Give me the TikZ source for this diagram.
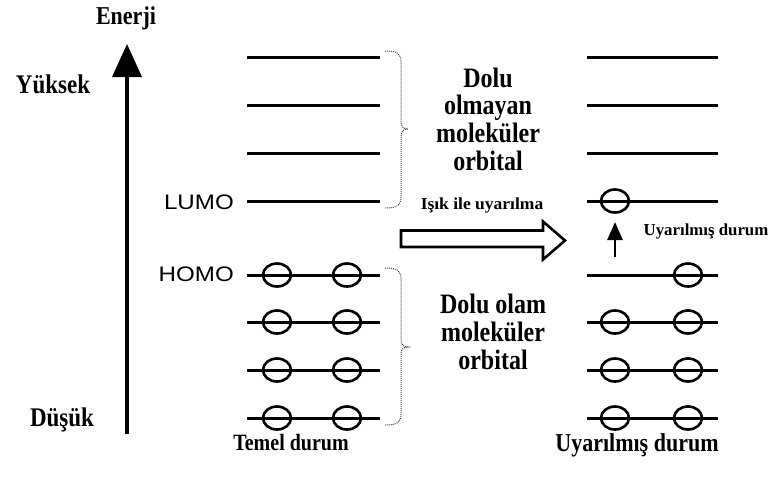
\documentclass[tikz,border=0pt]{standalone}
\usepackage{fontspec}
\setmainfont{Liberation Serif}
\newfontfamily\arialf{Liberation Sans}
\usetikzlibrary{arrows.meta,shapes.geometric}
\newcommand{\vst}[1]{\scalebox{1}[1.17]{#1}}
\begin{document}
\begin{tikzpicture}[x=1pt,y=-1pt,
  level/.style={line width=3pt},
  elec/.style={draw,ellipse,line width=2.6pt,minimum width=28pt,minimum height=23pt,inner sep=0pt},
  bigtxt/.style={font=\bfseries\fontsize{24}{23.5}\selectfont,inner sep=0pt},
  axtxt/.style={font=\bfseries\fontsize{23}{26}\selectfont,inner sep=0pt},
  smalltxt/.style={font=\bfseries\fontsize{14}{16}\selectfont,inner sep=0pt},
  sanstxt/.style={font=\arialf\fontsize{21}{24}\selectfont,inner sep=0pt},
  bracestyle/.style={densely dotted,line width=1pt,black!75},
  hollow/.style={line width=2.6pt,line join=miter}
]
\useasboundingbox (0,0) rectangle (770,480);

% energy levels
\foreach \n/\y in {1/57,2/105,3/153,4/201,5/275,6/322,7/370,8/418}{
  \coordinate (la\n) at (247,\y);
  \coordinate (lb\n) at (380,\y);
  \coordinate (ra\n) at (587,\y);
  \coordinate (rb\n) at (718,\y);
  \draw[level] (la\n) -- (lb\n);
  \draw[level] (ra\n) -- (rb\n);
}

% electrons, ground state
\foreach \n/\y in {5/275,6/322,7/370,8/418}{
  \node[elec] (gl\n) at (277,\y) {};
  \node[elec] (gr\n) at (347,\y) {};
}
% electrons, excited state
\foreach \n/\y in {6/322,7/370,8/418}{
  \node[elec] (xl\n) at (615,\y) {};
  \node[elec] (xr\n) at (688,\y) {};
}
\node[elec] (xr5) at (688,275) {};
\node[elec] (xl4) at (615,201) {};

% energy axis
\coordinate (ebot) at (127,434);
\coordinate (etop) at (127,44);
\draw[line width=3.8pt,-{Triangle[width=29pt,length=33pt]}] (ebot) -- (etop);

% small excitation arrow
\coordinate (sbot) at (615,257);
\coordinate (stop) at (615,222);
\draw[line width=2.8pt,-{Triangle[width=15pt,length=18pt]}] (sbot) -- (stop);

% hollow arrow
\draw[hollow] (401,230.5) -- (543,230.5) -- (543,221.5) -- (565,240.5)
  -- (543,259.5) -- (543,247) -- (401,247) -- cycle;

% braces
\draw[bracestyle] (385,51) .. controls (398,51) and (401,54) .. (401,62) -- (401,122)
  .. controls (401,127) and (404,129) .. (408,129)
  .. controls (404,129) and (401,131) .. (401,136) -- (401,197)
  .. controls (401,205) and (398,208) .. (385,208);
\draw[bracestyle] (385,268) .. controls (398,268) and (401,271) .. (401,279) -- (401,340)
  .. controls (401,345) and (404,347) .. (408,347)
  .. controls (404,347) and (401,349) .. (401,354) -- (401,414)
  .. controls (401,422) and (398,425) .. (385,425);

% labels
\node[font=\bfseries\fontsize{22}{26}\selectfont,inner sep=0pt] (enerji) at (126,18) {\vst{Enerji}};
\node[axtxt] (yuksek) at (53,84) {\vst{Yüksek}};
\node[axtxt] (dusuk) at (62,420) {\vst{Düşük}};
\node[sanstxt,anchor=east] (lumo) at (234,202) {\scalebox{1.15}[1]{LUMO}};
\node[sanstxt,anchor=east] (homo) at (234,274) {\scalebox{1.15}[1]{HOMO}};
\node[bigtxt] (bos) at (488,123) {\vst{\begin{tabular}{@{}c@{}}Dolu\\olmayan\\moleküler\\orbital\end{tabular}}};
\node[bigtxt] (dolu) at (493,336) {\vst{\begin{tabular}{@{}c@{}}Dolu olam\\moleküler\\orbital\end{tabular}}};
\node[smalltxt] (isik) at (482,205) {\scalebox{1.25}[1.2]{Işık ile uyarılma}};
\node[smalltxt] (uyd) at (706,231) {\scalebox{1.2}[1.2]{Uyarılmış durum}};
\node[font=\bfseries\fontsize{20}{24}\selectfont,inner sep=0pt] (temel) at (291,443) {\vst{Temel durum}};
\node[font=\bfseries\fontsize{22}{24}\selectfont,inner sep=0pt] (uyarilmis) at (637,445) {\vst{Uyarılmış durum}};
\end{tikzpicture}
\end{document}
